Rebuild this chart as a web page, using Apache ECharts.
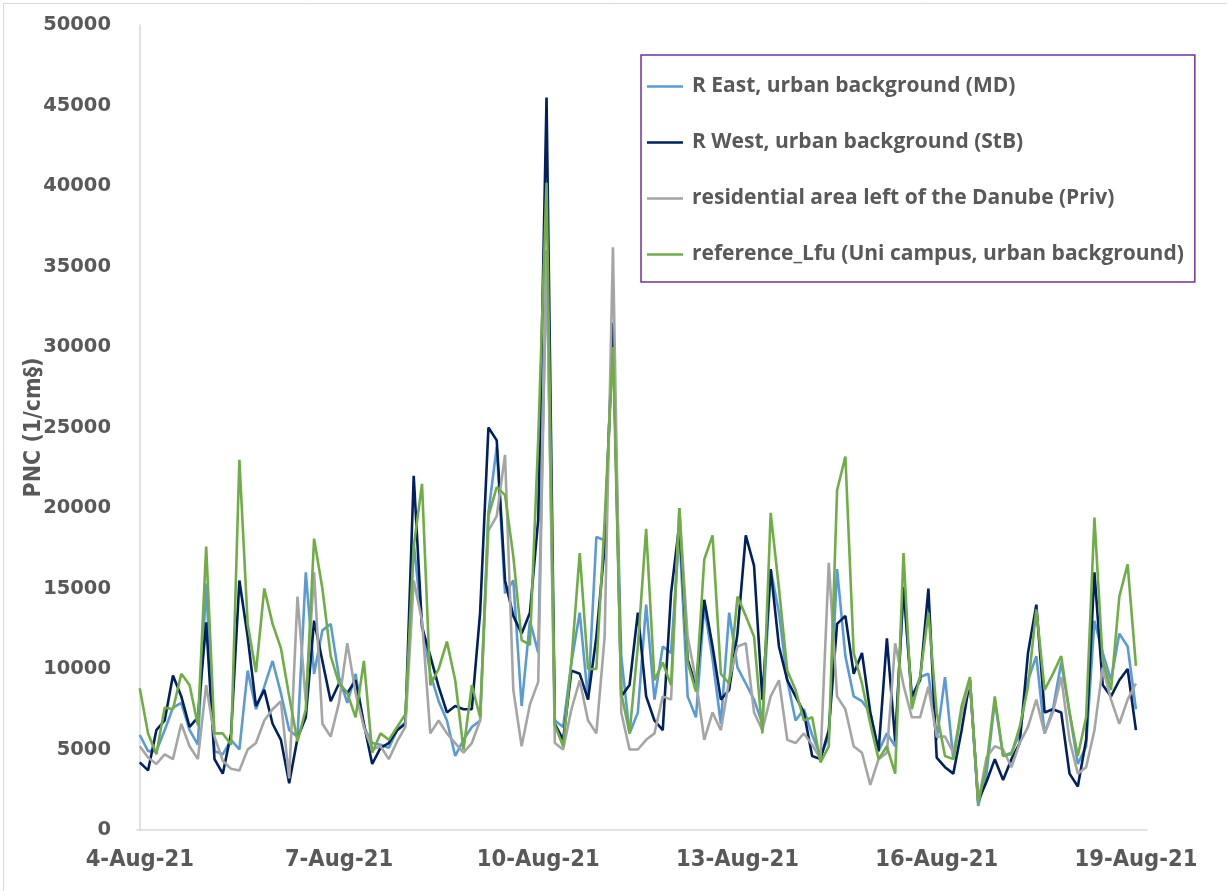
<!DOCTYPE html>
<html>
<head>
<meta charset="utf-8">
<script src="https://cdn.jsdelivr.net/npm/echarts@6/dist/echarts.min.js"></script>
<style>html,body{margin:0;padding:0;background:#fff}#c{width:1227px;height:891px}</style>
</head>
<body>
<div id="c"></div>
<script>
// 3-hourly samples starting 4-Aug-21 00:00
const STEP_HOURS = 3;
const seriesNames = [
  'R East, urban background (MD)',
  'R West, urban background (StB)',
  'residential area left of the Danube (Priv)',
  'reference_Lfu (Uni campus, urban background)'
];
const tickHours = [0, 72, 144, 216, 288, 360];
const tickLabels = ['4-Aug-21', '7-Aug-21', '10-Aug-21', '13-Aug-21', '16-Aug-21', '19-Aug-21'];

const eastMD = [5900,4900,4900,6200,7600,7900,6200,5300,15300,4900,
4700,5600,5000,9900,7500,8900,10500,8500,6200,5800,
16000,9700,12400,12800,9500,7900,9700,6400,5400,5300,
5100,6200,6700,17800,12800,9700,8000,6800,4600,5600,
6400,6800,19700,23800,14700,15500,7700,13000,11000,36000,
6800,6400,10400,13500,8100,18200,18000,31000,10800,6000,
7300,14000,8100,11400,11000,18500,8300,7000,13900,10600,
6600,13500,10100,9100,8100,6600,16200,13500,9300,6800,
7500,5900,4600,5800,16200,10800,8300,8000,7300,4900,
6000,5200,15000,8100,9500,9700,5600,9500,4400,7300,
9300,1500,3500,8000,4600,4800,6000,9300,10800,6000,
7500,10400,7300,4100,5200,13000,11000,9300,12200,11400,
7500];

const westStB = [4200,3700,6200,6800,9600,8300,6400,7000,12900,4400,
3500,6000,15500,12000,7700,8700,6600,5600,2900,5700,
7000,13000,10500,8000,9100,8500,9300,6600,4100,5100,
5400,6200,6600,22000,12600,10800,8900,7300,7700,7500,
7500,13500,25000,24200,15500,13300,12200,13500,19300,45500,
6600,5600,9900,9700,8100,12000,17600,31500,8300,9000,
13500,8300,6800,6200,14700,19000,10600,8900,14300,11400,
8100,8700,12200,18300,16400,8100,16200,11400,9300,8300,
7300,4600,4400,6200,12800,13300,9700,11000,7300,4900,
11900,5500,15100,8300,9300,15000,4500,3900,3500,6200,
9300,1800,3000,4400,3100,4400,5400,11000,14000,7300,
7500,7300,3500,2700,5600,16000,9000,8300,9300,10000,
6200];

const privGray = [5200,4500,4100,4700,4400,6600,5200,4400,9000,5800,
4300,3800,3700,5000,5400,6800,7500,8000,3200,14500,
8000,16000,6600,5800,7900,11600,8500,6400,5000,5200,
4400,5500,6400,15500,13000,6000,6800,6000,5400,4800,
5400,6800,18600,19500,23300,8700,5200,7800,9200,36000,
5400,5000,7500,9300,6800,6000,12000,36200,7300,5000,
5000,5600,6000,8300,8100,20000,12000,9300,5600,7300,
6200,9300,11400,11600,7300,6200,8300,9300,5600,5400,
6000,5300,4400,16600,8300,7500,5200,4800,2800,4400,
4800,11600,9000,7000,7000,8900,5800,5800,4800,7300,
9300,1700,4500,5200,5000,3900,5400,6400,8100,6000,
7300,9500,5600,3500,3900,6200,10100,8100,6600,8100,
9100];

const lfuRef = [8800,6000,4700,7600,7500,9700,9000,6500,17600,6000,
6000,5300,23000,12800,9800,15000,12800,11300,8300,5500,
7500,18100,15000,10800,9100,8500,7000,10500,4800,6000,
5600,6400,7200,17600,21500,9000,10000,11700,9300,5000,
9000,7000,19500,21300,20800,17000,11800,11500,24300,40200,
6500,5200,10500,17200,10000,10000,19200,30000,8500,6000,
11400,18700,9300,10400,9000,20000,10400,8600,16800,18300,
9700,9100,14500,13300,12000,6000,19700,15000,9900,8700,
6800,7000,4200,5200,21100,23200,11000,9100,6600,4400,
5200,3500,17200,7500,9500,13500,7300,4600,4400,7700,
9500,1700,4000,8300,4600,4700,6400,8900,13700,8700,
9700,10800,7300,4600,7000,19400,10500,8700,14500,16500,
10200];

const colors = ['#5B9BD5', '#002060', '#A5A5A5', '#70AD47'];
const allValues = [eastMD, westStB, privGray, lfuRef];

function toPairs(arr) { return arr.map((v, i) => [i * STEP_HOURS, v]); }

const chart = echarts.init(document.getElementById('c'), null, { renderer: 'canvas' });
const TXT = '#595959';
chart.setOption({
  animation: false,
  backgroundColor: '#fff',
  graphic: [{
    type: 'rect', left: 1, top: 1,
    shape: { width: 1224, height: 888 },
    style: { fill: 'none', stroke: '#D9D9D9', lineWidth: 1 }
  }],
  grid: { left: 137, top: 25, right: 80, bottom: 61 },
  legend: {
    orient: 'vertical', left: 641, top: 55,
    icon: 'rect',
    itemWidth: 36, itemHeight: 2.5, itemGap: 35,
    padding: [21, 11, 17, 6],
    borderColor: '#7030A0', borderWidth: 1.5,
    textStyle: { fontFamily: 'Open Sans', fontSize: 21, fontWeight: 'bold', color: TXT, lineHeight: 20, padding: [0, 0, 0, 4] },
    data: seriesNames
  },
  xAxis: {
    type: 'value', min: -1, max: 364,
    axisLine: { show: true, lineStyle: { color: '#D9D9D9', width: 1.5 } },
    axisTick: { show: false },
    splitLine: { show: false },
    axisLabel: {
      customValues: tickHours,
      margin: 18,
      fontFamily: 'DejaVu Sans Condensed', fontSize: 23.5, fontWeight: 'bold', color: TXT,
      formatter: function (v) { const k = tickHours.indexOf(v); return k >= 0 ? tickLabels[k] : ''; }
    }
  },
  yAxis: {
    type: 'value', min: 0, max: 50000, interval: 5000,
    name: 'PNC (1/cm§)', nameLocation: 'middle', nameGap: 91, nameRotate: 90,
    nameMoveOverlap: false,
    nameTextStyle: { fontFamily: 'DejaVu Sans Condensed', fontSize: 23, fontWeight: 'bold', color: TXT },
    axisLine: { show: true, lineStyle: { color: '#D9D9D9', width: 1.5 } },
    axisTick: { show: false },
    splitLine: { show: false },
    axisLabel: { margin: 26, fontFamily: 'DejaVu Sans', fontSize: 19.5, fontWeight: 'bold', color: TXT,
      formatter: function (v) { return String(v); } }
  },
  series: allValues.map((arr, k) => ({
    name: seriesNames[k], type: 'line', data: toPairs(arr),
    symbol: 'none', showSymbol: false,
    lineStyle: { color: colors[k], width: 2.6 },
    itemStyle: { color: colors[k] },
    z: 2 + k
  }))
});
</script>
</body>
</html>
